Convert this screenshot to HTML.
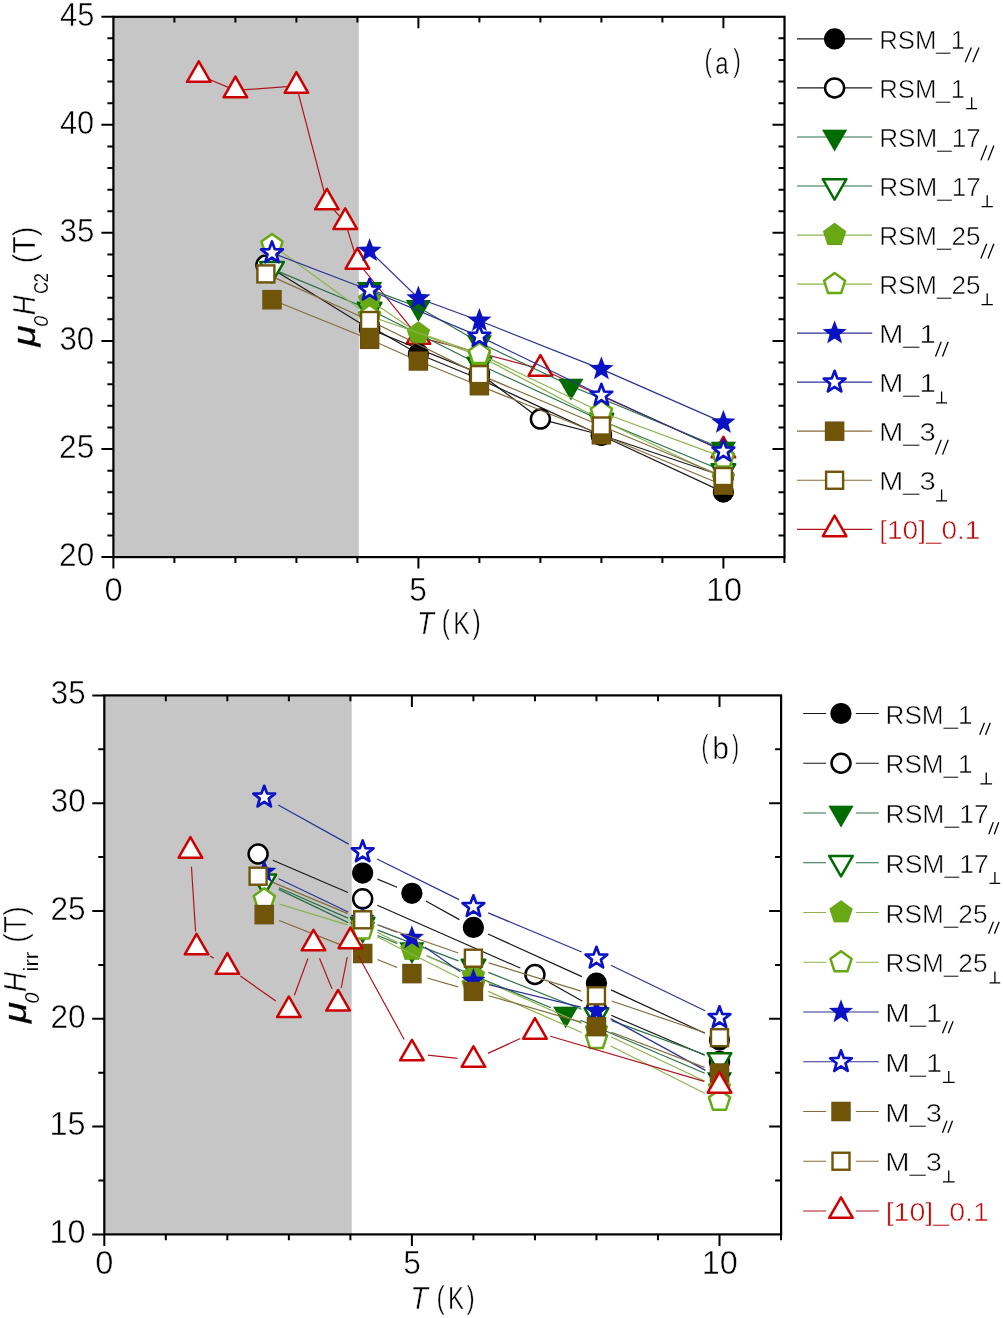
<!DOCTYPE html>
<html><head><meta charset="utf-8"><title>Hc2 and Hirr vs T</title>
<style>html,body{margin:0;padding:0;background:#fff;overflow:hidden}svg{display:block;will-change:transform}text{font-family:"Liberation Sans",sans-serif;font-kerning:none;stroke:#fff;stroke-width:0.5px}</style>
</head><body>
<svg width="1003" height="1318" viewBox="0 0 1003 1318">
<rect width="1003" height="1318" fill="#fff"/>
<rect x="113.4" y="16.8" width="245.5" height="540.3" fill="#c6c6c6"/>
<polyline points="198.8,75 235.4,90.4 296.4,85.9 326.9,202.5 345.2,222.1 357.4,261.8 418.4,337 540.4,368.8 723.4,450.5" fill="none" stroke="#b01420" stroke-width="1.2"/>
<polygon points="198.8,61.27 187,81.87 210.6,81.87" fill="#fff" stroke="#cc0000" stroke-width="2.5" stroke-linejoin="round"/>
<polygon points="235.4,76.67 223.6,97.27 247.2,97.27" fill="#fff" stroke="#cc0000" stroke-width="2.5" stroke-linejoin="round"/>
<polygon points="296.4,72.17 284.6,92.77 308.2,92.77" fill="#fff" stroke="#cc0000" stroke-width="2.5" stroke-linejoin="round"/>
<polygon points="326.9,188.77 315.1,209.37 338.7,209.37" fill="#fff" stroke="#cc0000" stroke-width="2.5" stroke-linejoin="round"/>
<polygon points="345.2,208.37 333.4,228.97 357,228.97" fill="#fff" stroke="#cc0000" stroke-width="2.5" stroke-linejoin="round"/>
<polygon points="357.4,248.07 345.6,268.67 369.2,268.67" fill="#fff" stroke="#cc0000" stroke-width="2.5" stroke-linejoin="round"/>
<polygon points="418.4,323.27 406.6,343.87 430.2,343.87" fill="#fff" stroke="#cc0000" stroke-width="2.5" stroke-linejoin="round"/>
<polygon points="540.4,355.07 528.6,375.67 552.2,375.67" fill="#fff" stroke="#cc0000" stroke-width="2.5" stroke-linejoin="round"/>
<polygon points="723.4,436.77 711.6,457.37 735.2,457.37" fill="#fff" stroke="#cc0000" stroke-width="2.5" stroke-linejoin="round"/>
<polyline points="369.6,326 418.4,354 479.4,379 601.4,435.5 723.4,492.1" fill="none" stroke="#181818" stroke-width="1.2"/>
<circle cx="369.6" cy="326" r="10.6" fill="#000000"/>
<circle cx="418.4" cy="354" r="10.6" fill="#000000"/>
<circle cx="479.4" cy="379" r="10.6" fill="#000000"/>
<circle cx="601.4" cy="435.5" r="10.6" fill="#000000"/>
<circle cx="723.4" cy="492.1" r="10.6" fill="#000000"/>
<polyline points="265.9,265 369.6,329 479.4,373.4 540.4,419.1 601.4,435 723.4,476.3" fill="none" stroke="#181818" stroke-width="1.2"/>
<circle cx="265.9" cy="265" r="9.5" fill="#fff" stroke="#000000" stroke-width="2.5"/>
<circle cx="369.6" cy="329" r="9.5" fill="#fff" stroke="#000000" stroke-width="2.5"/>
<circle cx="479.4" cy="373.4" r="9.5" fill="#fff" stroke="#000000" stroke-width="2.5"/>
<circle cx="540.4" cy="419.1" r="9.5" fill="#fff" stroke="#000000" stroke-width="2.5"/>
<circle cx="601.4" cy="435" r="9.5" fill="#fff" stroke="#000000" stroke-width="2.5"/>
<circle cx="723.4" cy="476.3" r="9.5" fill="#fff" stroke="#000000" stroke-width="2.5"/>
<polyline points="369.6,289.1 418.4,307.3 479.4,342.5 570.9,386 723.4,449" fill="none" stroke="#287046" stroke-width="1.2"/>
<polygon points="369.6,303.5 357.1,281.9 382.1,281.9" fill="#006c00" stroke="#0002" stroke-width="0.6"/>
<polygon points="418.4,321.7 405.9,300.1 430.9,300.1" fill="#006c00" stroke="#0002" stroke-width="0.6"/>
<polygon points="479.4,356.9 466.9,335.3 491.9,335.3" fill="#006c00" stroke="#0002" stroke-width="0.6"/>
<polygon points="570.9,400.4 558.4,378.8 583.4,378.8" fill="#006c00" stroke="#0002" stroke-width="0.6"/>
<polygon points="723.4,463.4 710.9,441.8 735.9,441.8" fill="#006c00" stroke="#0002" stroke-width="0.6"/>
<polyline points="272,268.9 369.6,309.5 479.4,364.5 601.4,420.5 723.4,471" fill="none" stroke="#287046" stroke-width="1.2"/>
<polygon points="272,282.63 260.2,262.03 283.8,262.03" fill="#fff" stroke="#006c00" stroke-width="2.5" stroke-linejoin="round"/>
<polygon points="369.6,323.23 357.8,302.63 381.4,302.63" fill="#fff" stroke="#006c00" stroke-width="2.5" stroke-linejoin="round"/>
<polygon points="479.4,378.23 467.6,357.63 491.2,357.63" fill="#fff" stroke="#006c00" stroke-width="2.5" stroke-linejoin="round"/>
<polygon points="601.4,434.23 589.6,413.63 613.2,413.63" fill="#fff" stroke="#006c00" stroke-width="2.5" stroke-linejoin="round"/>
<polygon points="723.4,484.73 711.6,464.13 735.2,464.13" fill="#fff" stroke="#006c00" stroke-width="2.5" stroke-linejoin="round"/>
<polyline points="369.6,300 418.4,333.4 479.4,356 601.4,420 723.4,478" fill="none" stroke="#8cb44e" stroke-width="1.2"/>
<polygon points="369.6,287.8 381.2,296.23 376.77,309.87 362.43,309.87 358,296.23" fill="#68a812" stroke="#0002" stroke-width="0.6"/>
<polygon points="418.4,321.2 430,329.63 425.57,343.27 411.23,343.27 406.8,329.63" fill="#68a812" stroke="#0002" stroke-width="0.6"/>
<polygon points="479.4,343.8 491,352.23 486.57,365.87 472.23,365.87 467.8,352.23" fill="#68a812" stroke="#0002" stroke-width="0.6"/>
<polygon points="601.4,407.8 613,416.23 608.57,429.87 594.23,429.87 589.8,416.23" fill="#68a812" stroke="#0002" stroke-width="0.6"/>
<polygon points="723.4,465.8 735,474.23 730.57,487.87 716.23,487.87 711.8,474.23" fill="#68a812" stroke="#0002" stroke-width="0.6"/>
<polyline points="272,245 369.6,316 479.4,353.9 601.4,412.2 723.4,457.4" fill="none" stroke="#8cb44e" stroke-width="1.2"/>
<polygon points="272,233.9 282.56,241.57 278.52,253.98 265.48,253.98 261.44,241.57" fill="#fff" stroke="#68a812" stroke-width="2.5" stroke-linejoin="round"/>
<polygon points="369.6,304.9 380.16,312.57 376.12,324.98 363.08,324.98 359.04,312.57" fill="#fff" stroke="#68a812" stroke-width="2.5" stroke-linejoin="round"/>
<polygon points="479.4,342.8 489.96,350.47 485.92,362.88 472.88,362.88 468.84,350.47" fill="#fff" stroke="#68a812" stroke-width="2.5" stroke-linejoin="round"/>
<polygon points="601.4,401.1 611.96,408.77 607.92,421.18 594.88,421.18 590.84,408.77" fill="#fff" stroke="#68a812" stroke-width="2.5" stroke-linejoin="round"/>
<polygon points="723.4,446.3 733.96,453.97 729.92,466.38 716.88,466.38 712.84,453.97" fill="#fff" stroke="#68a812" stroke-width="2.5" stroke-linejoin="round"/>
<polyline points="369.6,250.9 418.4,298.3 479.4,320.7 601.4,369.1 723.4,422.6" fill="none" stroke="#2c3296" stroke-width="1.2"/>
<polygon points="369.6,238.3 372.72,246.61 381.58,247.01 374.64,252.54 377.01,261.09 369.6,256.2 362.19,261.09 364.56,252.54 357.62,247.01 366.48,246.61" fill="#0a12c6" stroke="#0002" stroke-width="0.6"/>
<polygon points="418.4,285.7 421.52,294.01 430.38,294.41 423.44,299.94 425.81,308.49 418.4,303.6 410.99,308.49 413.36,299.94 406.42,294.41 415.28,294.01" fill="#0a12c6" stroke="#0002" stroke-width="0.6"/>
<polygon points="479.4,308.1 482.52,316.41 491.38,316.81 484.44,322.34 486.81,330.89 479.4,326 471.99,330.89 474.36,322.34 467.42,316.81 476.28,316.41" fill="#0a12c6" stroke="#0002" stroke-width="0.6"/>
<polygon points="601.4,356.5 604.52,364.81 613.38,365.21 606.44,370.74 608.81,379.29 601.4,374.4 593.99,379.29 596.36,370.74 589.42,365.21 598.28,364.81" fill="#0a12c6" stroke="#0002" stroke-width="0.6"/>
<polygon points="723.4,410 726.52,418.31 735.38,418.71 728.44,424.24 730.81,432.79 723.4,427.9 715.99,432.79 718.36,424.24 711.42,418.71 720.28,418.31" fill="#0a12c6" stroke="#0002" stroke-width="0.6"/>
<polyline points="272,252.9 369.6,290.2 479.4,336.4 601.4,395.3 723.4,451.2" fill="none" stroke="#2c3296" stroke-width="1.2"/>
<polygon points="272,241.5 274.76,249.1 282.84,249.38 276.47,254.35 278.7,262.12 272,257.6 265.3,262.12 267.53,254.35 261.16,249.38 269.24,249.1" fill="#fff" stroke="#0a12c6" stroke-width="2.7" stroke-linejoin="round"/>
<polygon points="369.6,278.8 372.36,286.4 380.44,286.68 374.07,291.65 376.3,299.42 369.6,294.9 362.9,299.42 365.13,291.65 358.76,286.68 366.84,286.4" fill="#fff" stroke="#0a12c6" stroke-width="2.7" stroke-linejoin="round"/>
<polygon points="479.4,325 482.16,332.6 490.24,332.88 483.87,337.85 486.1,345.62 479.4,341.1 472.7,345.62 474.93,337.85 468.56,332.88 476.64,332.6" fill="#fff" stroke="#0a12c6" stroke-width="2.7" stroke-linejoin="round"/>
<polygon points="601.4,383.9 604.16,391.5 612.24,391.78 605.87,396.75 608.1,404.52 601.4,400 594.7,404.52 596.93,396.75 590.56,391.78 598.64,391.5" fill="#fff" stroke="#0a12c6" stroke-width="2.7" stroke-linejoin="round"/>
<polygon points="723.4,439.8 726.16,447.4 734.24,447.68 727.87,452.65 730.1,460.42 723.4,455.9 716.7,460.42 718.93,452.65 712.56,447.68 720.64,447.4" fill="#fff" stroke="#0a12c6" stroke-width="2.7" stroke-linejoin="round"/>
<polyline points="272,299.7 369.6,339.3 418.4,361 479.4,385.7 601.4,434.8 723.4,485.3" fill="none" stroke="#846c3a" stroke-width="1.2"/>
<rect x="262.35" y="290.05" width="19.3" height="19.3" fill="#705408" stroke="#0003" stroke-width="0.6"/>
<rect x="359.95" y="329.65" width="19.3" height="19.3" fill="#705408" stroke="#0003" stroke-width="0.6"/>
<rect x="408.75" y="351.35" width="19.3" height="19.3" fill="#705408" stroke="#0003" stroke-width="0.6"/>
<rect x="469.75" y="376.05" width="19.3" height="19.3" fill="#705408" stroke="#0003" stroke-width="0.6"/>
<rect x="591.75" y="425.15" width="19.3" height="19.3" fill="#705408" stroke="#0003" stroke-width="0.6"/>
<rect x="713.75" y="475.65" width="19.3" height="19.3" fill="#705408" stroke="#0003" stroke-width="0.6"/>
<polyline points="265.9,273.9 369.6,320.5 479.4,374.6 601.4,426 723.4,476.5" fill="none" stroke="#846c3a" stroke-width="1.2"/>
<rect x="257.4" y="265.4" width="17" height="17" fill="#fff" stroke="#705408" stroke-width="2.4"/>
<rect x="361.1" y="312" width="17" height="17" fill="#fff" stroke="#705408" stroke-width="2.4"/>
<rect x="470.9" y="366.1" width="17" height="17" fill="#fff" stroke="#705408" stroke-width="2.4"/>
<rect x="592.9" y="417.5" width="17" height="17" fill="#fff" stroke="#705408" stroke-width="2.4"/>
<rect x="714.9" y="468" width="17" height="17" fill="#fff" stroke="#705408" stroke-width="2.4"/>
<rect x="113.4" y="16.8" width="671.1" height="540.3" fill="none" stroke="#000" stroke-width="2.2"/>
<path d="M113.4,557.1v11.5M174.4,557.1v5.8M174.4,16.8v5.8M235.4,557.1v5.8M235.4,16.8v5.8M296.4,557.1v5.8M296.4,16.8v5.8M357.4,557.1v5.8M357.4,16.8v5.8M418.4,557.1v11.5M418.4,16.8v11.5M479.4,557.1v5.8M479.4,16.8v5.8M540.4,557.1v5.8M540.4,16.8v5.8M601.4,557.1v5.8M601.4,16.8v5.8M662.4,557.1v5.8M662.4,16.8v5.8M723.4,557.1v11.5M723.4,16.8v11.5M784.4,557.1v5.8M113.4,557.1h-12M113.4,535.48h-6M784.5,535.48h-6M113.4,513.87h-6M784.5,513.87h-6M113.4,492.25h-6M784.5,492.25h-6M113.4,470.64h-6M784.5,470.64h-6M113.4,449.02h-12M784.5,449.02h-12M113.4,427.4h-6M784.5,427.4h-6M113.4,405.79h-6M784.5,405.79h-6M113.4,384.17h-6M784.5,384.17h-6M113.4,362.56h-6M784.5,362.56h-6M113.4,340.94h-12M784.5,340.94h-12M113.4,319.32h-6M784.5,319.32h-6M113.4,297.71h-6M784.5,297.71h-6M113.4,276.09h-6M784.5,276.09h-6M113.4,254.48h-6M784.5,254.48h-6M113.4,232.86h-12M784.5,232.86h-12M113.4,211.24h-6M784.5,211.24h-6M113.4,189.63h-6M784.5,189.63h-6M113.4,168.01h-6M784.5,168.01h-6M113.4,146.4h-6M784.5,146.4h-6M113.4,124.78h-12M784.5,124.78h-12M113.4,103.16h-6M784.5,103.16h-6M113.4,81.55h-6M784.5,81.55h-6M113.4,59.93h-6M784.5,59.93h-6M113.4,38.32h-6M784.5,38.32h-6M113.4,16.7h-12" stroke="#000" stroke-width="2" fill="none"/>
<rect x="104.3" y="695.4" width="247.4" height="539" fill="#c6c6c6"/>
<line x1="377.49" y1="879.18" x2="397.1" y2="887.22" stroke="#181818" stroke-width="1.2"/>
<line x1="425.89" y1="901.06" x2="459.43" y2="919.64" stroke="#181818" stroke-width="1.2"/>
<line x1="487.99" y1="934.01" x2="581.89" y2="976.59" stroke="#181818" stroke-width="1.2"/>
<line x1="610.99" y1="989.91" x2="704.97" y2="1033.29" stroke="#181818" stroke-width="1.2"/>
<circle cx="362.68" cy="873.1" r="10.6" fill="#000000"/>
<circle cx="411.9" cy="893.3" r="10.6" fill="#000000"/>
<circle cx="473.42" cy="927.4" r="10.6" fill="#000000"/>
<circle cx="596.46" cy="983.2" r="10.6" fill="#000000"/>
<circle cx="719.5" cy="1040" r="10.6" fill="#000000"/>
<line x1="272.81" y1="860.3" x2="347.98" y2="892.5" stroke="#181818" stroke-width="1.2"/>
<line x1="377.33" y1="905.24" x2="520.29" y2="968.06" stroke="#181818" stroke-width="1.2"/>
<line x1="548.9" y1="982.33" x2="582.5" y2="1001.17" stroke="#181818" stroke-width="1.2"/>
<line x1="611.17" y1="1015.29" x2="704.79" y2="1055.31" stroke="#181818" stroke-width="1.2"/>
<circle cx="258.1" cy="854" r="9.5" fill="#fff" stroke="#000000" stroke-width="2.5"/>
<circle cx="362.68" cy="898.8" r="9.5" fill="#fff" stroke="#000000" stroke-width="2.5"/>
<circle cx="534.94" cy="974.5" r="9.5" fill="#fff" stroke="#000000" stroke-width="2.5"/>
<circle cx="596.46" cy="1009" r="9.5" fill="#fff" stroke="#000000" stroke-width="2.5"/>
<circle cx="719.5" cy="1061.6" r="9.5" fill="#fff" stroke="#000000" stroke-width="2.5"/>
<line x1="278.69" y1="889.39" x2="348.25" y2="922.61" stroke="#287046" stroke-width="1.2"/>
<line x1="377.51" y1="935.52" x2="397.08" y2="943.48" stroke="#287046" stroke-width="1.2"/>
<line x1="426.66" y1="955.68" x2="550.94" y2="1007.72" stroke="#287046" stroke-width="1.2"/>
<line x1="580.42" y1="1020.18" x2="704.78" y2="1073.22" stroke="#287046" stroke-width="1.2"/>
<polygon points="264.25,896.9 251.75,875.3 276.75,875.3" fill="#006c00" stroke="#0002" stroke-width="0.6"/>
<polygon points="362.68,943.9 350.18,922.3 375.18,922.3" fill="#006c00" stroke="#0002" stroke-width="0.6"/>
<polygon points="411.9,963.9 399.4,942.3 424.4,942.3" fill="#006c00" stroke="#0002" stroke-width="0.6"/>
<polygon points="565.7,1028.3 553.2,1006.7 578.2,1006.7" fill="#006c00" stroke="#0002" stroke-width="0.6"/>
<polygon points="719.5,1093.9 707,1072.3 732,1072.3" fill="#006c00" stroke="#0002" stroke-width="0.6"/>
<line x1="278.91" y1="887.82" x2="348.03" y2="918.08" stroke="#287046" stroke-width="1.2"/>
<line x1="377.64" y1="930.17" x2="458.46" y2="960.83" stroke="#287046" stroke-width="1.2"/>
<line x1="488.3" y1="972.39" x2="581.58" y2="1009.31" stroke="#287046" stroke-width="1.2"/>
<line x1="611.49" y1="1020.67" x2="704.47" y2="1054.53" stroke="#287046" stroke-width="1.2"/>
<polygon points="264.25,895.13 252.45,874.53 276.05,874.53" fill="#fff" stroke="#006c00" stroke-width="2.5" stroke-linejoin="round"/>
<polygon points="362.68,938.23 350.88,917.63 374.48,917.63" fill="#fff" stroke="#006c00" stroke-width="2.5" stroke-linejoin="round"/>
<polygon points="473.42,980.23 461.62,959.63 485.22,959.63" fill="#fff" stroke="#006c00" stroke-width="2.5" stroke-linejoin="round"/>
<polygon points="596.46,1028.93 584.66,1008.33 608.26,1008.33" fill="#fff" stroke="#006c00" stroke-width="2.5" stroke-linejoin="round"/>
<polygon points="719.5,1073.73 707.7,1053.13 731.3,1053.13" fill="#fff" stroke="#006c00" stroke-width="2.5" stroke-linejoin="round"/>
<line x1="376.97" y1="932.2" x2="397.61" y2="942.6" stroke="#8cb44e" stroke-width="1.2"/>
<line x1="426.62" y1="956.07" x2="458.7" y2="969.73" stroke="#8cb44e" stroke-width="1.2"/>
<line x1="488.07" y1="982.43" x2="581.81" y2="1023.57" stroke="#8cb44e" stroke-width="1.2"/>
<line x1="610.93" y1="1036.82" x2="705.03" y2="1081.18" stroke="#8cb44e" stroke-width="1.2"/>
<polygon points="362.68,912.8 374.29,921.23 369.85,934.87 355.51,934.87 351.08,921.23" fill="#68a812" stroke="#0002" stroke-width="0.6"/>
<polygon points="411.9,937.6 423.5,946.03 419.07,959.67 404.73,959.67 400.3,946.03" fill="#68a812" stroke="#0002" stroke-width="0.6"/>
<polygon points="473.42,963.8 485.02,972.23 480.59,985.87 466.25,985.87 461.82,972.23" fill="#68a812" stroke="#0002" stroke-width="0.6"/>
<polygon points="596.46,1017.8 608.06,1026.23 603.63,1039.87 589.29,1039.87 584.86,1026.23" fill="#68a812" stroke="#0002" stroke-width="0.6"/>
<polygon points="719.5,1075.8 731.1,1084.23 726.67,1097.87 712.33,1097.87 707.9,1084.23" fill="#68a812" stroke="#0002" stroke-width="0.6"/>
<line x1="279.55" y1="904.08" x2="347.38" y2="924.82" stroke="#8cb44e" stroke-width="1.2"/>
<line x1="376.99" y1="936.67" x2="459.12" y2="977.83" stroke="#8cb44e" stroke-width="1.2"/>
<line x1="488.08" y1="991.42" x2="581.8" y2="1032.48" stroke="#8cb44e" stroke-width="1.2"/>
<line x1="610.76" y1="1046.08" x2="705.2" y2="1093.52" stroke="#8cb44e" stroke-width="1.2"/>
<polygon points="264.25,888.3 274.81,895.97 270.78,908.38 257.73,908.38 253.7,895.97" fill="#fff" stroke="#68a812" stroke-width="2.5" stroke-linejoin="round"/>
<polygon points="362.68,918.4 373.24,926.07 369.21,938.48 356.16,938.48 352.13,926.07" fill="#fff" stroke="#68a812" stroke-width="2.5" stroke-linejoin="round"/>
<polygon points="473.42,973.9 483.98,981.57 479.94,993.98 466.9,993.98 462.86,981.57" fill="#fff" stroke="#68a812" stroke-width="2.5" stroke-linejoin="round"/>
<polygon points="596.46,1027.8 607.02,1035.47 602.98,1047.88 589.94,1047.88 585.9,1035.47" fill="#fff" stroke="#68a812" stroke-width="2.5" stroke-linejoin="round"/>
<polygon points="719.5,1089.6 730.06,1097.27 726.02,1109.68 712.98,1109.68 708.94,1097.27" fill="#fff" stroke="#68a812" stroke-width="2.5" stroke-linejoin="round"/>
<line x1="278.68" y1="878.71" x2="348.25" y2="911.99" stroke="#2c3296" stroke-width="1.2"/>
<line x1="377.6" y1="924.69" x2="396.98" y2="932.21" stroke="#2c3296" stroke-width="1.2"/>
<line x1="425.03" y1="947.14" x2="460.29" y2="971.66" stroke="#2c3296" stroke-width="1.2"/>
<line x1="488.96" y1="984.61" x2="580.92" y2="1007.19" stroke="#2c3296" stroke-width="1.2"/>
<line x1="610.51" y1="1018.65" x2="705.45" y2="1070.35" stroke="#2c3296" stroke-width="1.2"/>
<polygon points="264.25,859.2 267.37,867.51 276.24,867.91 269.29,873.44 271.66,881.99 264.25,877.1 256.85,881.99 259.21,873.44 252.27,867.91 261.14,867.51" fill="#0a12c6" stroke="#0002" stroke-width="0.6"/>
<polygon points="362.68,906.3 365.8,914.61 374.67,915.01 367.72,920.54 370.09,929.09 362.68,924.2 355.28,929.09 357.64,920.54 350.7,915.01 359.57,914.61" fill="#0a12c6" stroke="#0002" stroke-width="0.6"/>
<polygon points="411.9,925.4 415.02,933.71 423.88,934.11 416.94,939.64 419.31,948.19 411.9,943.3 404.49,948.19 406.86,939.64 399.92,934.11 408.78,933.71" fill="#0a12c6" stroke="#0002" stroke-width="0.6"/>
<polygon points="473.42,968.2 476.54,976.51 485.4,976.91 478.46,982.44 480.83,990.99 473.42,986.1 466.01,990.99 468.38,982.44 461.44,976.91 470.3,976.51" fill="#0a12c6" stroke="#0002" stroke-width="0.6"/>
<polygon points="596.46,998.4 599.58,1006.71 608.44,1007.11 601.5,1012.64 603.87,1021.19 596.46,1016.3 589.05,1021.19 591.42,1012.64 584.48,1007.11 593.34,1006.71" fill="#0a12c6" stroke="#0002" stroke-width="0.6"/>
<polygon points="719.5,1065.4 722.62,1073.71 731.48,1074.11 724.54,1079.64 726.91,1088.19 719.5,1083.3 712.09,1088.19 714.46,1079.64 707.52,1074.11 716.38,1073.71" fill="#0a12c6" stroke="#0002" stroke-width="0.6"/>
<line x1="278.24" y1="804.97" x2="348.7" y2="844.13" stroke="#2c3296" stroke-width="1.2"/>
<line x1="377.02" y1="859" x2="459.08" y2="899.6" stroke="#2c3296" stroke-width="1.2"/>
<line x1="488.18" y1="912.88" x2="581.7" y2="952.02" stroke="#2c3296" stroke-width="1.2"/>
<line x1="610.86" y1="965.17" x2="705.1" y2="1010.73" stroke="#2c3296" stroke-width="1.2"/>
<polygon points="264.25,785.8 267.01,793.4 275.09,793.68 268.72,798.65 270.95,806.42 264.25,801.9 257.55,806.42 259.78,798.65 253.41,793.68 261.49,793.4" fill="#fff" stroke="#0a12c6" stroke-width="2.7" stroke-linejoin="round"/>
<polygon points="362.68,840.5 365.45,848.1 373.53,848.38 367.15,853.35 369.38,861.12 362.68,856.6 355.98,861.12 358.21,853.35 351.84,848.38 359.92,848.1" fill="#fff" stroke="#0a12c6" stroke-width="2.7" stroke-linejoin="round"/>
<polygon points="473.42,895.3 476.18,902.9 484.26,903.18 477.89,908.15 480.12,915.92 473.42,911.4 466.72,915.92 468.95,908.15 462.58,903.18 470.66,902.9" fill="#fff" stroke="#0a12c6" stroke-width="2.7" stroke-linejoin="round"/>
<polygon points="596.46,946.8 599.22,954.4 607.3,954.68 600.93,959.65 603.16,967.42 596.46,962.9 589.76,967.42 591.99,959.65 585.62,954.68 593.7,954.4" fill="#fff" stroke="#0a12c6" stroke-width="2.7" stroke-linejoin="round"/>
<polygon points="719.5,1006.3 722.26,1013.9 730.34,1014.18 723.97,1019.15 726.2,1026.92 719.5,1022.4 712.8,1026.92 715.03,1019.15 708.66,1014.18 716.74,1013.9" fill="#fff" stroke="#0a12c6" stroke-width="2.7" stroke-linejoin="round"/>
<line x1="279.13" y1="920.48" x2="347.8" y2="947.62" stroke="#846c3a" stroke-width="1.2"/>
<line x1="377.5" y1="959.55" x2="397.09" y2="967.55" stroke="#846c3a" stroke-width="1.2"/>
<line x1="427.28" y1="978.02" x2="458.04" y2="986.88" stroke="#846c3a" stroke-width="1.2"/>
<line x1="488.8" y1="995.71" x2="581.08" y2="1022.19" stroke="#846c3a" stroke-width="1.2"/>
<line x1="611.43" y1="1032.25" x2="704.53" y2="1067.35" stroke="#846c3a" stroke-width="1.2"/>
<rect x="254.6" y="904.95" width="19.3" height="19.3" fill="#705408" stroke="#0003" stroke-width="0.6"/>
<rect x="353.03" y="943.85" width="19.3" height="19.3" fill="#705408" stroke="#0003" stroke-width="0.6"/>
<rect x="402.25" y="963.95" width="19.3" height="19.3" fill="#705408" stroke="#0003" stroke-width="0.6"/>
<rect x="463.77" y="981.65" width="19.3" height="19.3" fill="#705408" stroke="#0003" stroke-width="0.6"/>
<rect x="586.81" y="1016.95" width="19.3" height="19.3" fill="#705408" stroke="#0003" stroke-width="0.6"/>
<rect x="709.85" y="1063.35" width="19.3" height="19.3" fill="#705408" stroke="#0003" stroke-width="0.6"/>
<line x1="272.87" y1="882.36" x2="347.92" y2="913.64" stroke="#846c3a" stroke-width="1.2"/>
<line x1="377.8" y1="925.04" x2="458.3" y2="952.96" stroke="#846c3a" stroke-width="1.2"/>
<line x1="488.72" y1="962.88" x2="581.16" y2="991.12" stroke="#846c3a" stroke-width="1.2"/>
<line x1="611.61" y1="1000.96" x2="704.35" y2="1032.54" stroke="#846c3a" stroke-width="1.2"/>
<rect x="249.6" y="867.7" width="17" height="17" fill="#fff" stroke="#705408" stroke-width="2.4"/>
<rect x="354.18" y="911.3" width="17" height="17" fill="#fff" stroke="#705408" stroke-width="2.4"/>
<rect x="464.92" y="949.7" width="17" height="17" fill="#fff" stroke="#705408" stroke-width="2.4"/>
<rect x="587.96" y="987.3" width="17" height="17" fill="#fff" stroke="#705408" stroke-width="2.4"/>
<rect x="711" y="1029.2" width="17" height="17" fill="#fff" stroke="#705408" stroke-width="2.4"/>
<line x1="191.44" y1="866.77" x2="195.56" y2="931.53" stroke="#b01420" stroke-width="1.2"/>
<line x1="210.11" y1="956.04" x2="213.81" y2="958.36" stroke="#b01420" stroke-width="1.2"/>
<line x1="240.42" y1="976.11" x2="275.78" y2="1000.99" stroke="#b01420" stroke-width="1.2"/>
<line x1="294.4" y1="995.19" x2="307.93" y2="958.51" stroke="#b01420" stroke-width="1.2"/>
<line x1="319.52" y1="958.31" x2="332.02" y2="988.89" stroke="#b01420" stroke-width="1.2"/>
<line x1="341.17" y1="988" x2="347.28" y2="957" stroke="#b01420" stroke-width="1.2"/>
<line x1="358.07" y1="955.33" x2="404.21" y2="1039.47" stroke="#b01420" stroke-width="1.2"/>
<line x1="427.81" y1="1055.18" x2="457.51" y2="1058.32" stroke="#b01420" stroke-width="1.2"/>
<line x1="487.96" y1="1053.33" x2="520.4" y2="1038.47" stroke="#b01420" stroke-width="1.2"/>
<line x1="550.3" y1="1036.29" x2="704.14" y2="1081.31" stroke="#b01420" stroke-width="1.2"/>
<polygon points="190.43,837.07 178.63,857.67 202.23,857.67" fill="#fff" stroke="#cc0000" stroke-width="2.5" stroke-linejoin="round"/>
<polygon points="196.58,933.77 184.78,954.37 208.38,954.37" fill="#fff" stroke="#cc0000" stroke-width="2.5" stroke-linejoin="round"/>
<polygon points="227.34,953.17 215.54,973.77 239.14,973.77" fill="#fff" stroke="#cc0000" stroke-width="2.5" stroke-linejoin="round"/>
<polygon points="288.86,996.47 277.06,1017.07 300.66,1017.07" fill="#fff" stroke="#cc0000" stroke-width="2.5" stroke-linejoin="round"/>
<polygon points="313.47,929.77 301.67,950.37 325.27,950.37" fill="#fff" stroke="#cc0000" stroke-width="2.5" stroke-linejoin="round"/>
<polygon points="338.08,989.97 326.28,1010.57 349.88,1010.57" fill="#fff" stroke="#cc0000" stroke-width="2.5" stroke-linejoin="round"/>
<polygon points="350.38,927.57 338.58,948.17 362.18,948.17" fill="#fff" stroke="#cc0000" stroke-width="2.5" stroke-linejoin="round"/>
<polygon points="411.9,1039.77 400.1,1060.37 423.7,1060.37" fill="#fff" stroke="#cc0000" stroke-width="2.5" stroke-linejoin="round"/>
<polygon points="473.42,1046.27 461.62,1066.87 485.22,1066.87" fill="#fff" stroke="#cc0000" stroke-width="2.5" stroke-linejoin="round"/>
<polygon points="534.94,1018.07 523.14,1038.67 546.74,1038.67" fill="#fff" stroke="#cc0000" stroke-width="2.5" stroke-linejoin="round"/>
<polygon points="719.5,1072.07 707.7,1092.67 731.3,1092.67" fill="#fff" stroke="#cc0000" stroke-width="2.5" stroke-linejoin="round"/>
<rect x="104.3" y="695.4" width="676.8" height="539" fill="none" stroke="#000" stroke-width="2.2"/>
<path d="M104.3,1234.4v11.5M165.82,1234.4v5.8M165.82,695.4v5.8M227.34,1234.4v5.8M227.34,695.4v5.8M288.86,1234.4v5.8M288.86,695.4v5.8M350.38,1234.4v5.8M350.38,695.4v5.8M411.9,1234.4v11.5M411.9,695.4v11.5M473.42,1234.4v5.8M473.42,695.4v5.8M534.94,1234.4v5.8M534.94,695.4v5.8M596.46,1234.4v5.8M596.46,695.4v5.8M657.98,1234.4v5.8M657.98,695.4v5.8M719.5,1234.4v11.5M719.5,695.4v11.5M781.02,1234.4v5.8M104.3,1234.4h-12M104.3,1180.5h-6M781.1,1180.5h-6M104.3,1126.6h-12M781.1,1126.6h-12M104.3,1072.7h-6M781.1,1072.7h-6M104.3,1018.8h-12M781.1,1018.8h-12M104.3,964.9h-6M781.1,964.9h-6M104.3,911h-12M781.1,911h-12M104.3,857.1h-6M781.1,857.1h-6M104.3,803.2h-12M781.1,803.2h-12M104.3,749.3h-6M781.1,749.3h-6M104.3,695.4h-12" stroke="#000" stroke-width="2" fill="none"/>
<text x="59.99" y="25.6" font-size="33" textLength="34.3" lengthAdjust="spacingAndGlyphs">45</text>
<text x="59.99" y="133.68" font-size="33" textLength="34.21" lengthAdjust="spacingAndGlyphs">40</text>
<text x="59.51" y="241.76" font-size="33" textLength="34.81" lengthAdjust="spacingAndGlyphs">35</text>
<text x="59.51" y="349.84" font-size="33" textLength="34.71" lengthAdjust="spacingAndGlyphs">30</text>
<text x="59.11" y="457.92" font-size="33" textLength="35.22" lengthAdjust="spacingAndGlyphs">25</text>
<text x="59.11" y="566" font-size="33" textLength="35.12" lengthAdjust="spacingAndGlyphs">20</text>
<text x="104.43" y="600.8" font-size="33" textLength="18.15" lengthAdjust="spacingAndGlyphs">0</text>
<text x="409.23" y="600.8" font-size="33" textLength="17.6" lengthAdjust="spacingAndGlyphs">5</text>
<text x="706.02" y="600.8" font-size="33" textLength="36.14" lengthAdjust="spacingAndGlyphs">10</text>
<text x="50.81" y="704.2" font-size="33" textLength="34.81" lengthAdjust="spacingAndGlyphs">35</text>
<text x="50.81" y="812" font-size="33" textLength="34.71" lengthAdjust="spacingAndGlyphs">30</text>
<text x="50.41" y="919.8" font-size="33" textLength="35.22" lengthAdjust="spacingAndGlyphs">25</text>
<text x="50.41" y="1027.6" font-size="33" textLength="35.12" lengthAdjust="spacingAndGlyphs">20</text>
<text x="49.53" y="1135.4" font-size="33" textLength="36.14" lengthAdjust="spacingAndGlyphs">15</text>
<text x="49.53" y="1243.2" font-size="33" textLength="36.03" lengthAdjust="spacingAndGlyphs">10</text>
<text x="95.13" y="1274" font-size="33" textLength="18.15" lengthAdjust="spacingAndGlyphs">0</text>
<text x="403.23" y="1274" font-size="33" textLength="17.6" lengthAdjust="spacingAndGlyphs">5</text>
<text x="701.72" y="1274" font-size="33" textLength="36.14" lengthAdjust="spacingAndGlyphs">10</text>
<text x="417.01" y="633.6" font-size="32" font-style="italic" textLength="16.95" lengthAdjust="spacingAndGlyphs">T</text>
<text x="441.86" y="632.59" font-size="33.38" textLength="8.29" lengthAdjust="spacingAndGlyphs">(</text>
<text x="453.36" y="633.6" font-size="32" textLength="16.62" lengthAdjust="spacingAndGlyphs">K</text>
<text x="472.55" y="632.59" font-size="33.38" textLength="8.29" lengthAdjust="spacingAndGlyphs">)</text>
<text x="410.3" y="1308.8" font-size="32" font-style="italic" textLength="17.69" lengthAdjust="spacingAndGlyphs">T</text>
<text x="436.46" y="1307.56" font-size="32.09" textLength="8.29" lengthAdjust="spacingAndGlyphs">(</text>
<text x="448.03" y="1308.8" font-size="32" textLength="16.04" lengthAdjust="spacingAndGlyphs">K</text>
<text x="466.55" y="1307.56" font-size="32.09" textLength="8.29" lengthAdjust="spacingAndGlyphs">)</text>
<text x="704.5" y="71.3" font-size="32" textLength="7.54" lengthAdjust="spacingAndGlyphs">(</text>
<text x="715.28" y="73.5" font-size="32" textLength="13.32" lengthAdjust="spacingAndGlyphs">a</text>
<text x="733.27" y="71.3" font-size="32" textLength="7.54" lengthAdjust="spacingAndGlyphs">)</text>
<text x="701.39" y="757.3" font-size="32" textLength="7.03" lengthAdjust="spacingAndGlyphs">(</text>
<text x="712.37" y="758.7" font-size="32" textLength="16.7" lengthAdjust="spacingAndGlyphs">b</text>
<text x="732.08" y="757.3" font-size="32" textLength="7.03" lengthAdjust="spacingAndGlyphs">)</text>
<g transform="rotate(-90)">
<text style="stroke:#000;stroke-width:0.3px" x="-346.59" y="35" font-size="31" font-style="italic" textLength="21.21" lengthAdjust="spacingAndGlyphs">μ</text>
<text x="-326.86" y="47.8" font-size="20" font-style="italic" style="stroke-width:0.1px" textLength="11.03" lengthAdjust="spacingAndGlyphs">0</text>
<text x="-315.35" y="35" font-size="31" font-style="italic" textLength="19.92" lengthAdjust="spacingAndGlyphs">H</text>
<text x="-293.82" y="48.3" font-size="20" style="stroke-width:0.1px" textLength="20.63" lengthAdjust="spacingAndGlyphs">C2</text>
<text x="-263.17" y="35" font-size="31" textLength="36.44" lengthAdjust="spacingAndGlyphs">(T)</text>
<text style="stroke:#000;stroke-width:0.3px" x="-1022.99" y="25.6" font-size="31" font-style="italic" textLength="21.01" lengthAdjust="spacingAndGlyphs">μ</text>
<text x="-1003.45" y="38.5" font-size="20" font-style="italic" style="stroke-width:0.1px" textLength="10.92" lengthAdjust="spacingAndGlyphs">0</text>
<text x="-992.05" y="25.6" font-size="31" font-style="italic" textLength="20.03" lengthAdjust="spacingAndGlyphs">H</text>
<text x="-971.47" y="38.2" font-size="20" style="stroke-width:0.1px" textLength="19.54" lengthAdjust="spacingAndGlyphs">irr</text>
<text x="-942.68" y="25.6" font-size="31" textLength="36.55" lengthAdjust="spacingAndGlyphs">(T)</text>
</g>
<line x1="797" y1="38.9" x2="872.2" y2="38.9" stroke="#181818" stroke-width="1.2"/>
<circle cx="834.6" cy="38.9" r="10.6" fill="#000000"/>
<text x="879.19" y="48.9" font-size="25.5" textLength="85.77" lengthAdjust="spacingAndGlyphs" fill="#000">RSM_1</text>
<path d="M965.2,62.3L971.41,47.5M972.79,62.3L979,47.5" stroke="#000" stroke-width="1.3" fill="none"/>
<line x1="797" y1="87.94" x2="872.2" y2="87.94" stroke="#181818" stroke-width="1.2"/>
<circle cx="834.6" cy="87.94" r="9.5" fill="#fff" stroke="#000000" stroke-width="2.5"/>
<text x="879.19" y="97.94" font-size="25.5" textLength="85.77" lengthAdjust="spacingAndGlyphs" fill="#000">RSM_1</text>
<path d="M971.65,97.14V109.14M966.2,108.54H977.1" stroke="#000" stroke-width="1.3" fill="none"/>
<line x1="797" y1="136.98" x2="872.2" y2="136.98" stroke="#287046" stroke-width="1.2"/>
<polygon points="834.6,151.38 822.1,129.78 847.1,129.78" fill="#006c00" stroke="#0002" stroke-width="0.6"/>
<text x="879.16" y="146.98" font-size="25.5" textLength="101.66" lengthAdjust="spacingAndGlyphs" fill="#000">RSM_17</text>
<path d="M980.9,160.38L986.75,145.58M988.05,160.38L993.9,145.58" stroke="#000" stroke-width="1.3" fill="none"/>
<line x1="797" y1="186.02" x2="872.2" y2="186.02" stroke="#287046" stroke-width="1.2"/>
<polygon points="834.6,199.75 822.8,179.15 846.4,179.15" fill="#fff" stroke="#006c00" stroke-width="2.5" stroke-linejoin="round"/>
<text x="879.16" y="196.02" font-size="25.5" textLength="101.66" lengthAdjust="spacingAndGlyphs" fill="#000">RSM_17</text>
<path d="M987.2,195.22V207.22M981.6,206.62H992.8" stroke="#000" stroke-width="1.3" fill="none"/>
<line x1="797" y1="235.06" x2="872.2" y2="235.06" stroke="#8cb44e" stroke-width="1.2"/>
<polygon points="834.6,222.86 846.2,231.29 841.77,244.93 827.43,244.93 823,231.29" fill="#68a812" stroke="#0002" stroke-width="0.6"/>
<text x="879.16" y="245.06" font-size="25.5" textLength="101.43" lengthAdjust="spacingAndGlyphs" fill="#000">RSM_25</text>
<path d="M980.9,258.46L986.75,243.66M988.05,258.46L993.9,243.66" stroke="#000" stroke-width="1.3" fill="none"/>
<line x1="797" y1="284.1" x2="872.2" y2="284.1" stroke="#8cb44e" stroke-width="1.2"/>
<polygon points="834.6,273 845.16,280.67 841.12,293.08 828.08,293.08 824.04,280.67" fill="#fff" stroke="#68a812" stroke-width="2.5" stroke-linejoin="round"/>
<text x="879.16" y="294.1" font-size="25.5" textLength="101.43" lengthAdjust="spacingAndGlyphs" fill="#000">RSM_25</text>
<path d="M987.2,293.3V305.3M981.6,304.7H992.8" stroke="#000" stroke-width="1.3" fill="none"/>
<line x1="797" y1="333.14" x2="872.2" y2="333.14" stroke="#2c3296" stroke-width="1.2"/>
<polygon points="834.6,320.54 837.72,328.85 846.58,329.25 839.64,334.78 842.01,343.33 834.6,338.44 827.19,343.33 829.56,334.78 822.62,329.25 831.48,328.85" fill="#0a12c6" stroke="#0002" stroke-width="0.6"/>
<text x="878.9" y="343.14" font-size="25.5" textLength="56.93" lengthAdjust="spacingAndGlyphs" fill="#000">M_1</text>
<path d="M935.5,356.54L941.22,341.74M942.49,356.54L948.2,341.74" stroke="#000" stroke-width="1.3" fill="none"/>
<line x1="797" y1="382.18" x2="872.2" y2="382.18" stroke="#2c3296" stroke-width="1.2"/>
<polygon points="834.6,370.78 837.36,378.38 845.44,378.66 839.07,383.63 841.3,391.4 834.6,386.88 827.9,391.4 830.13,383.63 823.76,378.66 831.84,378.38" fill="#fff" stroke="#0a12c6" stroke-width="2.7" stroke-linejoin="round"/>
<text x="878.9" y="392.18" font-size="25.5" textLength="56.93" lengthAdjust="spacingAndGlyphs" fill="#000">M_1</text>
<path d="M941.6,391.38V403.38M936.1,402.78H947.1" stroke="#000" stroke-width="1.3" fill="none"/>
<line x1="797" y1="431.22" x2="872.2" y2="431.22" stroke="#846c3a" stroke-width="1.2"/>
<rect x="824.95" y="421.57" width="19.3" height="19.3" fill="#705408" stroke="#0003" stroke-width="0.6"/>
<text x="878.91" y="441.22" font-size="25.5" textLength="56.78" lengthAdjust="spacingAndGlyphs" fill="#000">M_3</text>
<path d="M935.5,454.62L941.22,439.82M942.49,454.62L948.2,439.82" stroke="#000" stroke-width="1.3" fill="none"/>
<line x1="797" y1="480.26" x2="872.2" y2="480.26" stroke="#846c3a" stroke-width="1.2"/>
<rect x="826.1" y="471.76" width="17" height="17" fill="#fff" stroke="#705408" stroke-width="2.4"/>
<text x="878.91" y="490.26" font-size="25.5" textLength="56.78" lengthAdjust="spacingAndGlyphs" fill="#000">M_3</text>
<path d="M941.6,489.46V501.46M936.1,500.86H947.1" stroke="#000" stroke-width="1.3" fill="none"/>
<line x1="797" y1="529.3" x2="872.2" y2="529.3" stroke="#b01420" stroke-width="1.2"/>
<polygon points="834.6,515.57 822.8,536.17 846.4,536.17" fill="#fff" stroke="#cc0000" stroke-width="2.5" stroke-linejoin="round"/>
<text x="879.31" y="539.3" font-size="25.5" textLength="101.06" lengthAdjust="spacingAndGlyphs" fill="#b80808">[10]_0.1</text>
<path d="M803.2,713.5H826.1M855.8,713.5H878.8" stroke="#181818" stroke-width="1.2"/>
<circle cx="841" cy="713.5" r="10.6" fill="#000000"/>
<text x="885.56" y="723.5" font-size="25.5" textLength="87.01" lengthAdjust="spacingAndGlyphs" fill="#000">RSM_1</text>
<path d="M979.7,734.8L984.47,722.7M985.53,734.8L990.3,722.7" stroke="#000" stroke-width="1.3" fill="none"/>
<path d="M803.2,763.25H826.1M855.8,763.25H878.8" stroke="#181818" stroke-width="1.2"/>
<circle cx="841" cy="763.25" r="9.5" fill="#fff" stroke="#000000" stroke-width="2.5"/>
<text x="885.56" y="773.25" font-size="25.5" textLength="87.01" lengthAdjust="spacingAndGlyphs" fill="#000">RSM_1</text>
<path d="M986.25,772.45V784.45M980.4,783.85H992.1" stroke="#000" stroke-width="1.3" fill="none"/>
<path d="M803.2,813H826.1M855.8,813H878.8" stroke="#287046" stroke-width="1.2"/>
<polygon points="841,827.4 828.5,805.8 853.5,805.8" fill="#006c00" stroke="#0002" stroke-width="0.6"/>
<text x="885.52" y="823" font-size="25.5" textLength="103.21" lengthAdjust="spacingAndGlyphs" fill="#000">RSM_17</text>
<path d="M988.8,834.3L993.25,822.2M994.25,834.3L998.7,822.2" stroke="#000" stroke-width="1.3" fill="none"/>
<path d="M803.2,862.75H826.1M855.8,862.75H878.8" stroke="#287046" stroke-width="1.2"/>
<polygon points="841,876.48 829.2,855.88 852.8,855.88" fill="#fff" stroke="#006c00" stroke-width="2.5" stroke-linejoin="round"/>
<text x="885.52" y="872.75" font-size="25.5" textLength="103.21" lengthAdjust="spacingAndGlyphs" fill="#000">RSM_17</text>
<path d="M994.9,871.95V883.95M989.6,883.35H1000.2" stroke="#000" stroke-width="1.3" fill="none"/>
<path d="M803.2,912.5H826.1M855.8,912.5H878.8" stroke="#8cb44e" stroke-width="1.2"/>
<polygon points="841,900.3 852.6,908.73 848.17,922.37 833.83,922.37 829.4,908.73" fill="#68a812" stroke="#0002" stroke-width="0.6"/>
<text x="885.55" y="922.5" font-size="25.5" textLength="101.95" lengthAdjust="spacingAndGlyphs" fill="#000">RSM_25</text>
<path d="M988.6,933.8L993.37,921.7M994.43,933.8L999.2,921.7" stroke="#000" stroke-width="1.3" fill="none"/>
<path d="M803.2,962.25H826.1M855.8,962.25H878.8" stroke="#8cb44e" stroke-width="1.2"/>
<polygon points="841,951.15 851.56,958.82 847.52,971.23 834.48,971.23 830.44,958.82" fill="#fff" stroke="#68a812" stroke-width="2.5" stroke-linejoin="round"/>
<text x="885.55" y="972.25" font-size="25.5" textLength="101.95" lengthAdjust="spacingAndGlyphs" fill="#000">RSM_25</text>
<path d="M994.9,971.45V983.45M989.6,982.85H1000.2" stroke="#000" stroke-width="1.3" fill="none"/>
<line x1="803.2" y1="1012" x2="878.8" y2="1012" stroke="#2c3296" stroke-width="1.2"/>
<polygon points="841,999.4 844.12,1007.71 852.98,1008.11 846.04,1013.64 848.41,1022.19 841,1017.3 833.59,1022.19 835.96,1013.64 829.02,1008.11 837.88,1007.71" fill="#0a12c6" stroke="#0002" stroke-width="0.6"/>
<text x="885.3" y="1022" font-size="25.5" textLength="56.93" lengthAdjust="spacingAndGlyphs" fill="#000">M_1</text>
<path d="M942.5,1033.3L947.27,1021.2M948.33,1033.3L953.1,1021.2" stroke="#000" stroke-width="1.3" fill="none"/>
<line x1="803.2" y1="1061.75" x2="878.8" y2="1061.75" stroke="#2c3296" stroke-width="1.2"/>
<polygon points="841,1050.35 843.76,1057.95 851.84,1058.23 845.47,1063.2 847.7,1070.97 841,1066.45 834.3,1070.97 836.53,1063.2 830.16,1058.23 838.24,1057.95" fill="#fff" stroke="#0a12c6" stroke-width="2.7" stroke-linejoin="round"/>
<text x="885.3" y="1071.75" font-size="25.5" textLength="56.93" lengthAdjust="spacingAndGlyphs" fill="#000">M_1</text>
<path d="M948.75,1070.95V1082.95M942.9,1082.35H954.6" stroke="#000" stroke-width="1.3" fill="none"/>
<path d="M803.2,1111.5H826.1M855.8,1111.5H878.8" stroke="#846c3a" stroke-width="1.2"/>
<rect x="831.35" y="1101.85" width="19.3" height="19.3" fill="#705408" stroke="#0003" stroke-width="0.6"/>
<text x="885.31" y="1121.5" font-size="25.5" textLength="56.78" lengthAdjust="spacingAndGlyphs" fill="#000">M_3</text>
<path d="M942.5,1132.8L947,1120.7M948,1132.8L952.5,1120.7" stroke="#000" stroke-width="1.3" fill="none"/>
<path d="M803.2,1161.25H826.1M855.8,1161.25H878.8" stroke="#846c3a" stroke-width="1.2"/>
<rect x="832.5" y="1152.75" width="17" height="17" fill="#fff" stroke="#705408" stroke-width="2.4"/>
<text x="885.31" y="1171.25" font-size="25.5" textLength="56.78" lengthAdjust="spacingAndGlyphs" fill="#000">M_3</text>
<path d="M948.75,1170.45V1182.45M942.9,1181.85H954.6" stroke="#000" stroke-width="1.3" fill="none"/>
<path d="M803.2,1211H826.1M855.8,1211H878.8" stroke="#b01420" stroke-width="1.2"/>
<polygon points="841,1197.27 829.2,1217.87 852.8,1217.87" fill="#fff" stroke="#cc0000" stroke-width="2.5" stroke-linejoin="round"/>
<text x="885.66" y="1221" font-size="25.5" textLength="103.23" lengthAdjust="spacingAndGlyphs" fill="#b80808">[10]_0.1</text>
</svg>
</body></html>
